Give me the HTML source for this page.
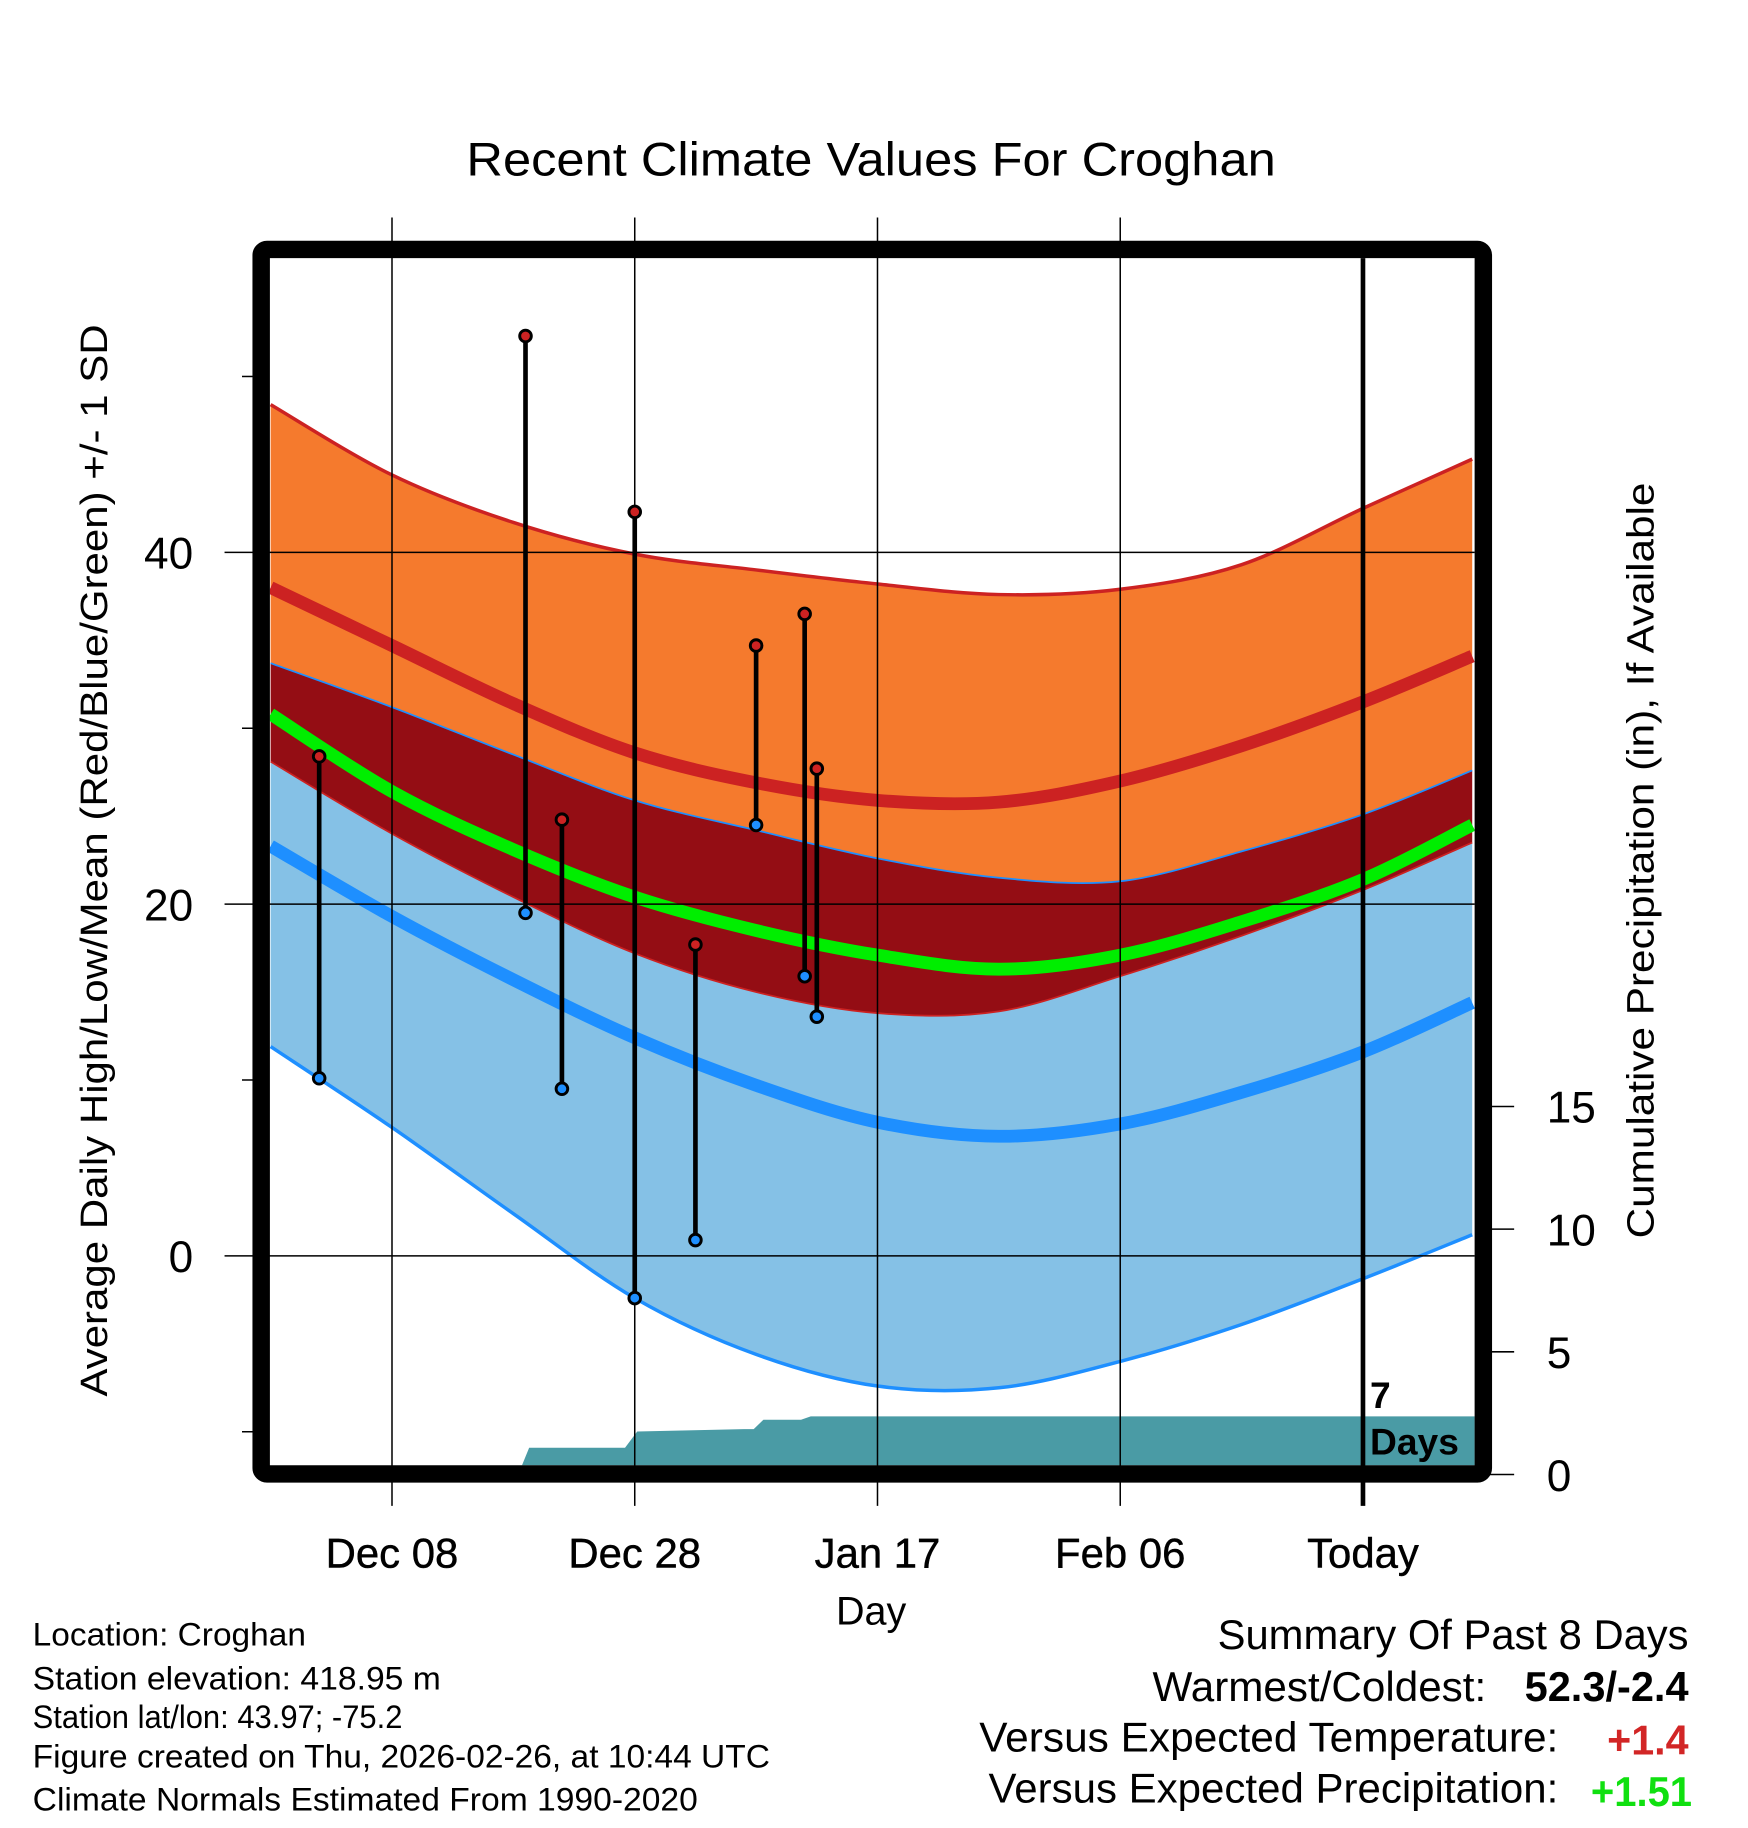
<!DOCTYPE html>
<html><head><meta charset="utf-8"><style>
html,body{margin:0;padding:0;background:#fff;}
svg{display:block;font-family:"Liberation Sans",Arial,sans-serif;}
</style></head><body>
<svg id="chart" width="1748" height="1828" viewBox="0 0 1503 1572" xmlns="http://www.w3.org/2000/svg">
<defs><clipPath id="plotclip"><rect x="232" y="222" width="1036" height="1038"/></clipPath></defs>
<rect width="1503" height="1572" fill="#fff"/>
<text x="749" y="151" font-size="41" text-anchor="middle" textLength="696" lengthAdjust="spacingAndGlyphs">Recent Climate Values For Croghan</text>
<g id="bands" clip-path="url(#plotclip)"></g>
<g id="grid"></g>
<g id="marks"></g>
<g id="frame"></g>
<g id="labels"></g>
<text transform="translate(92,740) rotate(-90)" font-size="33" text-anchor="middle" textLength="922" lengthAdjust="spacingAndGlyphs">Average Daily High/Low/Mean (Red/Blue/Green) +/- 1 SD</text>
<text transform="translate(1422,740) rotate(-90)" font-size="33" text-anchor="middle" textLength="650" lengthAdjust="spacingAndGlyphs">Cumulative Precipitation (in), If Available</text>
<text x="749" y="1397" font-size="34" text-anchor="middle">Day</text>
<g font-size="28">
<text x="28" y="1415" textLength="235" lengthAdjust="spacingAndGlyphs">Location: Croghan</text>
<text x="28" y="1453" textLength="351" lengthAdjust="spacingAndGlyphs">Station elevation: 418.95 m</text>
<text x="28" y="1486" textLength="318" lengthAdjust="spacingAndGlyphs">Station lat/lon: 43.97; -75.2</text>
<text x="28" y="1520" textLength="634" lengthAdjust="spacingAndGlyphs">Figure created on Thu, 2026-02-26, at 10:44 UTC</text>
<text x="28" y="1557" textLength="572" lengthAdjust="spacingAndGlyphs">Climate Normals Estimated From 1990-2020</text>
</g>
<g font-size="36">
<text x="1452" y="1418" text-anchor="end" textLength="405" lengthAdjust="spacingAndGlyphs">Summary Of Past 8 Days</text>
<text x="1278" y="1463" text-anchor="end" textLength="287" lengthAdjust="spacingAndGlyphs">Warmest/Coldest:</text>
<text x="1452" y="1463" text-anchor="end" font-weight="bold" textLength="141" lengthAdjust="spacingAndGlyphs">52.3/-2.4</text>
<text x="1340" y="1506" text-anchor="end" textLength="498" lengthAdjust="spacingAndGlyphs">Versus Expected Temperature:</text>
<text x="1452" y="1509" text-anchor="end" font-weight="bold" fill="#d22626" textLength="70" lengthAdjust="spacingAndGlyphs">+1.4</text>
<text x="1340" y="1550" text-anchor="end" textLength="490" lengthAdjust="spacingAndGlyphs">Versus Expected Precipitation:</text>
<text x="1455" y="1553" text-anchor="end" font-weight="bold" fill="#10e010" textLength="87" lengthAdjust="spacingAndGlyphs">+1.51</text>
</g>
</svg>
<script>
const normDays = [-10,0,10,20,30,40,50,60,70,80,89];
const highPlusSD = [48.4,44.4,41.7,39.9,39.0,38.2,37.6,37.9,39.3,42.5,45.3];
const meanHigh = [38.0,34.7,31.4,28.6,26.9,25.9,25.8,27.0,29.0,31.5,34.1];
const highMinusSD = [33.7,31.2,28.5,25.9,24.2,22.6,21.5,21.3,23.0,25.1,27.6];
const meanTemp = [30.8,26.4,23.1,20.4,18.5,17.1,16.3,17.1,19.0,21.4,24.5];
const lowPlusSD = [28.1,24.0,20.4,17.2,15.0,13.8,13.9,15.9,18.2,20.8,23.5];
const meanLow = [23.3,19.3,15.7,12.4,9.7,7.6,6.8,7.5,9.3,11.6,14.4];
const lowMinusSD = [11.9,7.3,2.4,-2.4,-5.6,-7.4,-7.5,-6.0,-3.9,-1.3,1.2];
const obsDays = [-6,11,14,20,25,30,34,35];
const obsHigh = [28.4,52.3,24.8,42.3,17.7,34.7,36.5,27.7];
const obsLow = [10.1,19.5,9.5,-2.4,0.9,24.5,15.9,13.6];
const precipDays = [10.4,11.3,19.2,20.2,29,29.8,30.6,33.7,34.5,89.5];
const precipVals = [0,1.09,1.09,1.75,1.85,1.85,2.23,2.23,2.37,2.37];
const xTickDays = [0,20,40,60,80];
const xTickLabels = ["Dec 08","Dec 28","Jan 17","Feb 06","Today"];
const yTicks = [0,20,40];
const yMinor = [-10,10,30,50];
const y2Ticks = [0,5,10,15];

const NS="http://www.w3.org/2000/svg";
const X = d => 337 + d*10.4375;
const Y = v => 1080 - v*15.125;
const Y2 = p => 1268 - p*21.1;
function mk(tag, attrs, parent){const e=document.createElementNS(NS,tag);for(const k in attrs)e.setAttribute(k,attrs[k]);parent.appendChild(e);return e;}
function smooth(pts){let d=`M${pts[0][0]},${pts[0][1]}`;for(let i=0;i<pts.length-1;i++){const p0=pts[Math.max(i-1,0)],p1=pts[i],p2=pts[i+1],p3=pts[Math.min(i+2,pts.length-1)];
d+=` C${p1[0]+(p2[0]-p0[0])/6},${p1[1]+(p2[1]-p0[1])/6} ${p2[0]-(p3[0]-p1[0])/6},${p2[1]-(p3[1]-p1[1])/6} ${p2[0]},${p2[1]}`;}return d;}
function pts(arr){return normDays.map((d,i)=>[X(d),Y(arr[i])]);}
function band(top,bot){const a=smooth(pts(top));const b=pts(bot).reverse();return a+" L"+smooth(b).slice(1)+" Z";}
const bands=document.getElementById('bands');
let e;
e=mk('path',{d:band(highPlusSD,highMinusSD),fill:'#f57a2d'},bands);


e=mk('path',{d:band(highMinusSD,lowPlusSD),fill:'#940d14'},bands);


e=mk('path',{d:band(lowPlusSD,lowMinusSD),fill:'#85c1e6'},bands);


e=mk('path',{d:smooth(pts(highPlusSD)),fill:'none',stroke:'#cc2222','stroke-width':3},bands);


e=mk('path',{d:smooth(pts(highMinusSD)),fill:'none',stroke:'#1e8fff','stroke-width':1.5},bands);


e=mk('path',{d:smooth(pts(lowPlusSD)),fill:'none',stroke:'#cc2222','stroke-width':1.5},bands);


e=mk('path',{d:smooth(pts(lowMinusSD)),fill:'none',stroke:'#1e8fff','stroke-width':3},bands);


e=mk('path',{d:smooth(pts(meanHigh)),fill:'none',stroke:'#cc2222','stroke-width':11},bands);


e=mk('path',{d:smooth(pts(meanTemp)),fill:'none',stroke:'#00ee00','stroke-width':11},bands);


e=mk('path',{d:smooth(pts(meanLow)),fill:'none',stroke:'#1e8fff','stroke-width':11},bands);


let pd=`M${X(precipDays[0])},1268`;precipDays.forEach((d,i)=>{pd+=` L${X(d)},${Y2(precipVals[i])}`;});pd+=` L${X(precipDays[precipDays.length-1])},1268 Z`;
e=mk('path',{d:pd,fill:'#4a9ba5'},bands);



const grid=document.getElementById('grid');
xTickDays.forEach((d,i)=>{
 if(i<4){e=mk('line',{x1:X(d),x2:X(d),y1:187,y2:1295,stroke:'#000','stroke-width':1.3},grid);
 
 }
});
yTicks.forEach(v=>{e=mk('line',{x1:193,x2:1268,y1:Y(v),y2:Y(v),stroke:'#000','stroke-width':1.3},grid);
 
 });
yMinor.forEach(v=>{e=mk('line',{x1:208,x2:220,y1:Y(v),y2:Y(v),stroke:'#000','stroke-width':1.3},grid);
 
 });
y2Ticks.forEach(p=>{e=mk('line',{x1:1280,x2:1302,y1:Y2(p),y2:Y2(p),stroke:'#000','stroke-width':1.3},grid);
 
 });
e=mk('line',{x1:X(80),x2:X(80),y1:222,y2:1295,stroke:'#000','stroke-width':4},grid);



const marks=document.getElementById('marks');
obsDays.forEach((d,i)=>{
 e=mk('line',{x1:X(d),x2:X(d),y1:Y(obsHigh[i]),y2:Y(obsLow[i]),stroke:'#000','stroke-width':4},marks);
 
 
 e=mk('circle',{cx:X(d),cy:Y(obsHigh[i]),r:5,fill:'#cc2222',stroke:'#000','stroke-width':2.5},marks);
 
 
 e=mk('circle',{cx:X(d),cy:Y(obsLow[i]),r:5,fill:'#1e8fff',stroke:'#000','stroke-width':2.5},marks);
 
 
});

const frame=document.getElementById('frame');
e=mk('rect',{x:224.5,y:214.5,width:1051,height:1053,rx:5,fill:'none',stroke:'#000','stroke-width':15},frame);



const labels=document.getElementById('labels');
xTickDays.forEach((d,i)=>{e=mk('text',{x:X(d),y:1348,'font-size':36,'text-anchor':'middle','stroke':'#000','stroke-width':0.4},labels);e.textContent=xTickLabels[i];
 
 });
yTicks.forEach(v=>{e=mk('text',{x:166,y:Y(v)+14,'font-size':38,'text-anchor':'end'},labels);e.textContent=v;
 
 });
y2Ticks.forEach(p=>{e=mk('text',{x:1330,y:Y2(p)+14,'font-size':38},labels);e.textContent=p;
 
 });
e=mk('text',{x:1178,y:1211,'font-size':32,'font-weight':'bold'},labels);e.textContent='7';


e=mk('text',{x:1178,y:1251,'font-size':32,'font-weight':'bold'},labels);e.textContent='Days';


</script>
</body></html>
